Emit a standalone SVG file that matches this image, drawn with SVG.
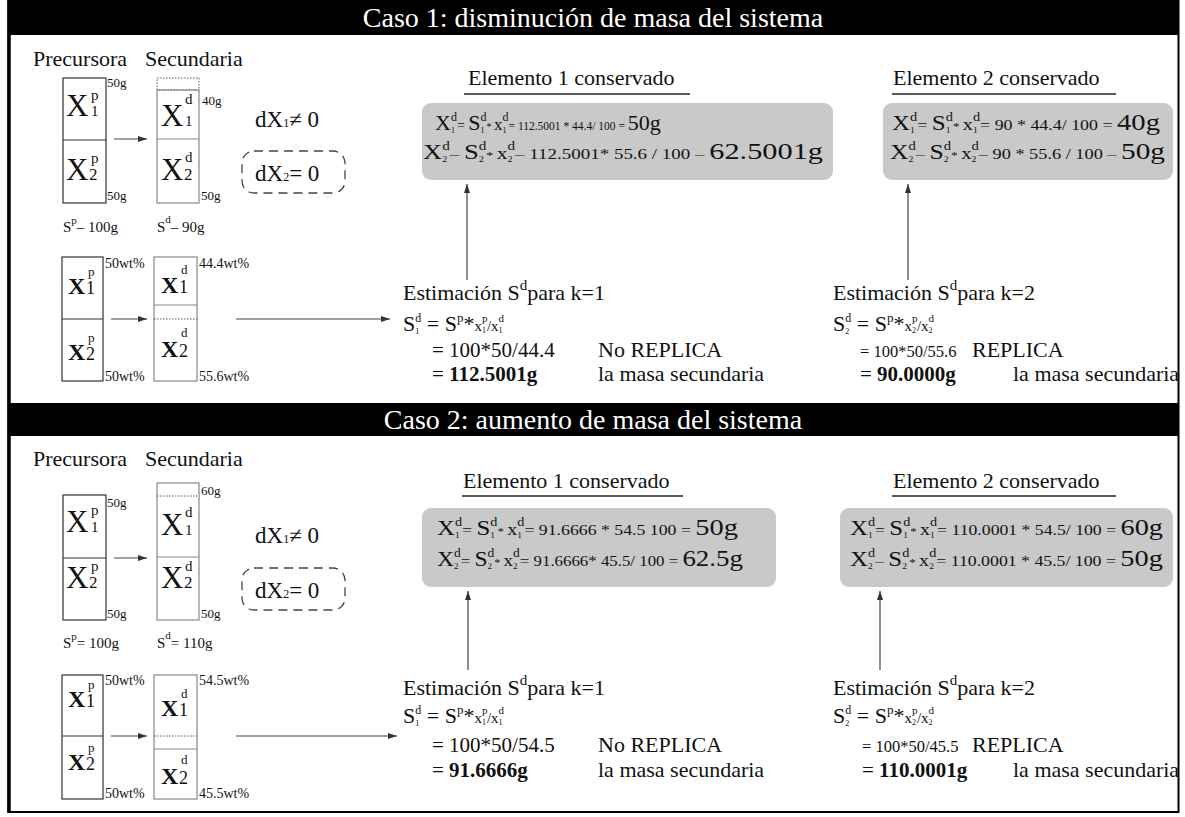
<svg xmlns="http://www.w3.org/2000/svg" width="1185" height="817" viewBox="0 0 1185 817">
<defs>
<style>
text{font-family:"Liberation Serif","Times New Roman",serif;fill:#111}
.hdr{font-size:28px;fill:#fff}
.lbl{font-size:22px}
.sm{font-size:13px}
.wt{font-size:14px}
.bx{fill:none;stroke:#333;stroke-width:1.2}
.bx2{fill:none;stroke:#888;stroke-width:1.2}
.dt{fill:none;stroke:#555;stroke-width:1;stroke-dasharray:1.5 1.5}
.dash{fill:none;stroke:#444;stroke-width:1.3;stroke-dasharray:9 6}
.gray{fill:#c9c9c9}
.ul{stroke:#222;stroke-width:1.3}
.conn line{stroke:#444;stroke-width:1.2;marker-end:url(#ah)}
.bold{font-weight:bold}
</style>
<marker id="ah" markerWidth="9" markerHeight="6" refX="9" refY="3" orient="auto" markerUnits="userSpaceOnUse">
<path d="M0,0 L9,3 L0,6 z" fill="#333"/>
</marker>
</defs>
<rect x="0" y="0" width="1185" height="817" fill="#fff"/>
<g id="frame">
<rect x="8.5" y="1" width="1170" height="811" fill="none" stroke="#000" stroke-width="2"/>
<line x1="9" y1="0" x2="9" y2="813" stroke="#000" stroke-width="3.5"/>
</g>
<g id="header1">
<rect x="8" y="0" width="1171" height="35" fill="#000"/>
<text x="593" y="27" text-anchor="middle" class="hdr">Caso 1: disminución de masa del sistema</text>
</g>
<g id="header2">
<rect x="8" y="403" width="1171" height="33" fill="#000"/>
<text x="593" y="429" text-anchor="middle" class="hdr">Caso 2: aumento de masa del sistema</text>
</g>

<!-- CASE 1 -->
<g id="c1-labels">
<text x="33" y="66" class="lbl">Precursora</text>
<text x="145" y="66" class="lbl">Secundaria</text>
</g>
<g id="c1-prec-mass">
<rect x="63" y="78" width="43" height="125" class="bx"/>
<line x1="63" y1="140" x2="106" y2="140" class="bx"/>
<text x="66" y="116" font-size="31">X</text><text x="91" y="100" font-size="15">p</text><text x="91" y="116" font-size="15">1</text>
<text x="66" y="180" font-size="31">X</text><text x="91" y="163" font-size="15">p</text><text x="89" y="180" font-size="17">2</text>
<text x="107" y="87" class="sm">50g</text>
<text x="107" y="200" class="sm">50g</text>
</g>
<g id="c1-sec-mass">
<rect x="157" y="78" width="42" height="12" class="dt"/>
<rect x="157" y="90" width="42" height="113" class="bx2"/>
<line x1="157" y1="139" x2="199" y2="139" class="bx2"/>
<text x="161" y="126" font-size="31">X</text><text x="185" y="104" font-size="15">d</text><text x="185" y="126" font-size="15">1</text>
<text x="161" y="180" font-size="31">X</text><text x="185" y="162" font-size="15">d</text><text x="184" y="180" font-size="17">2</text>
<text x="202" y="105" class="sm">40g</text>
<text x="201" y="200" class="sm">50g</text>
</g>
<g id="c1-cond">
<text x="255" y="127" font-size="23">dX<tspan font-size="12">1</tspan>≠ 0</text>
<rect x="242" y="151" width="103" height="42" rx="12" class="dash"/>
<text x="255" y="181" font-size="23">dX<tspan font-size="12">2</tspan>= 0</text>
</g>
<g id="c1-sum">
<text x="63" y="232" font-size="15">S<tspan font-size="11" dy="-8">p</tspan><tspan dy="8">– 100g</tspan></text>
<text x="157" y="232" font-size="15">S<tspan font-size="11" dy="-9">d</tspan><tspan dy="9">– 90g</tspan></text>
</g>
<g id="c1-prec-wt">
<rect x="62" y="257" width="41" height="124" class="bx"/>
<line x1="62" y1="319" x2="103" y2="319" class="bx"/>
<text x="68" y="294" font-size="24" class="bold">X</text><text x="86" y="294" font-size="18">1</text><text x="88" y="276" font-size="13">p</text>
<text x="68" y="360" font-size="24" class="bold">X</text><text x="86" y="360" font-size="18">2</text><text x="88" y="342" font-size="13">p</text>
<text x="105" y="268" class="wt">50wt%</text>
<text x="105" y="381" class="wt">50wt%</text>
</g>
<g id="c1-sec-wt">
<rect x="154" y="257" width="43" height="124" class="bx2"/>
<line x1="154" y1="305" x2="197" y2="305" class="bx2"/>
<line x1="154" y1="319" x2="197" y2="319" class="dt"/>
<text x="161" y="293" font-size="24" class="bold">X</text><text x="179" y="293" font-size="18">1</text><text x="181" y="274" font-size="13">d</text>
<text x="161" y="357" font-size="24" class="bold">X</text><text x="179" y="357" font-size="18">2</text><text x="181" y="337" font-size="13">d</text>
<text x="199" y="268" class="wt">44.4wt%</text>
<text x="199" y="381" class="wt">55.6wt%</text>
</g>
<g id="c1-elem1">
<text x="468" y="85" class="lbl">Elemento 1 conservado</text>
<line x1="464" y1="94" x2="690" y2="94" class="ul"/>
<rect x="422" y="103" width="411" height="77" rx="9" class="gray"/>
<text x="435" y="130"><tspan font-size="22">X</tspan><tspan font-size="12" dy="-9">d</tspan><tspan font-size="8" dx="-6" dy="12">1</tspan><tspan font-size="14" dx="2" dy="-3">= </tspan><tspan font-size="22">S</tspan><tspan font-size="12" dy="-9">d</tspan><tspan font-size="8" dx="-6" dy="12">1</tspan><tspan font-size="10" dx="2" dy="-3">* </tspan><tspan font-size="17">x</tspan><tspan font-size="12" dy="-9">d</tspan><tspan font-size="8" dx="-6" dy="12">1</tspan><tspan font-size="11.5" dx="2" dy="-3">= 112.5001 * 44.4/ 100 = </tspan><tspan font-size="22">50g</tspan></text>
<text x="423" y="159" textLength="400" lengthAdjust="spacingAndGlyphs"><tspan font-size="21">X</tspan><tspan font-size="12" dy="-9">d</tspan><tspan font-size="8" dx="-6" dy="12">2</tspan><tspan font-size="15" dx="2" dy="-3">– </tspan><tspan font-size="21">S</tspan><tspan font-size="12" dy="-9">d</tspan><tspan font-size="8" dx="-6" dy="12">2</tspan><tspan font-size="11" dx="2" dy="-3">* </tspan><tspan font-size="17">x</tspan><tspan font-size="12" dy="-9">d</tspan><tspan font-size="8" dx="-6" dy="12">2</tspan><tspan font-size="15" dx="2" dy="-3">– 112.5001* 55.6 / 100 – </tspan><tspan font-size="24">62.5001g</tspan></text>
</g>
<g id="c1-elem2">
<text x="893" y="85" class="lbl">Elemento 2 conservado</text>
<line x1="892" y1="94" x2="1116" y2="94" class="ul"/>
<rect x="883" y="103" width="290" height="77" rx="9" class="gray"/>
<text x="892" y="130" textLength="268" lengthAdjust="spacingAndGlyphs"><tspan font-size="21">X</tspan><tspan font-size="12" dy="-9">d</tspan><tspan font-size="8" dx="-6" dy="12">1</tspan><tspan font-size="15" dx="2" dy="-3">= </tspan><tspan font-size="21">S</tspan><tspan font-size="12" dy="-9">d</tspan><tspan font-size="8" dx="-6" dy="12">1</tspan><tspan font-size="11" dx="2" dy="-3">* </tspan><tspan font-size="17">x</tspan><tspan font-size="12" dy="-9">d</tspan><tspan font-size="8" dx="-6" dy="12">1</tspan><tspan font-size="15" dx="2" dy="-3">= 90 * 44.4/ 100 = </tspan><tspan font-size="24">40g</tspan></text>
<text x="890" y="159" textLength="275" lengthAdjust="spacingAndGlyphs"><tspan font-size="21">X</tspan><tspan font-size="12" dy="-9">d</tspan><tspan font-size="8" dx="-6" dy="12">2</tspan><tspan font-size="15" dx="2" dy="-3">– </tspan><tspan font-size="21">S</tspan><tspan font-size="12" dy="-9">d</tspan><tspan font-size="8" dx="-6" dy="12">2</tspan><tspan font-size="11" dx="2" dy="-3">* </tspan><tspan font-size="17">x</tspan><tspan font-size="12" dy="-9">d</tspan><tspan font-size="8" dx="-6" dy="12">2</tspan><tspan font-size="15" dx="2" dy="-3">– 90 * 55.6 / 100 – </tspan><tspan font-size="24">50g</tspan></text>
</g>
<g id="c1-est1">
<text x="403" y="300" class="lbl">Estimación S<tspan font-size="15" dy="-10">d</tspan><tspan dy="10">para k=1</tspan></text>
<text x="403" y="331" font-size="22">S<tspan font-size="12" dy="-9">d</tspan><tspan font-size="8" dx="-6" dy="12">1</tspan><tspan dx="2" dy="-3"> = S</tspan><tspan font-size="13" dy="-9">p</tspan><tspan dy="9">*</tspan><tspan font-size="15">x</tspan><tspan font-size="11" dy="-9">p</tspan><tspan font-size="8" dx="-5.5" dy="11">1</tspan><tspan font-size="15" dx="1" dy="-2">/x</tspan><tspan font-size="11" dy="-9">d</tspan><tspan font-size="8" dx="-5.5" dy="11">1</tspan></text>
<text x="432" y="357" font-size="21">= 100*50/44.4</text>
<text x="598" y="357" class="lbl">No REPLICA</text>
<text x="432" y="381" font-size="21">= <tspan class="bold">112.5001g</tspan></text>
<text x="598" y="381" class="lbl">la masa secundaria</text>
</g>
<g id="c1-est2">
<text x="833" y="300" class="lbl">Estimación S<tspan font-size="15" dy="-10">d</tspan><tspan dy="10">para k=2</tspan></text>
<text x="833" y="331" font-size="22">S<tspan font-size="12" dy="-9">d</tspan><tspan font-size="8" dx="-6" dy="12">2</tspan><tspan dx="2" dy="-3"> = S</tspan><tspan font-size="13" dy="-9">p</tspan><tspan dy="9">*</tspan><tspan font-size="15">x</tspan><tspan font-size="11" dy="-9">p</tspan><tspan font-size="8" dx="-5.5" dy="11">2</tspan><tspan font-size="15" dx="1" dy="-2">/x</tspan><tspan font-size="11" dy="-9">d</tspan><tspan font-size="8" dx="-5.5" dy="11">2</tspan></text>
<text x="860" y="357" font-size="16.5">= 100*50/55.6</text>
<text x="972" y="357" class="lbl">REPLICA</text>
<text x="860" y="381" font-size="21">= <tspan class="bold">90.0000g</tspan></text>
<text x="1013" y="381" class="lbl">la masa secundaria</text>
</g>

<!-- CASE 2 -->
<g id="c2-labels">
<text x="33" y="466" class="lbl">Precursora</text>
<text x="145" y="466" class="lbl">Secundaria</text>
</g>
<g id="c2-prec-mass">
<rect x="63" y="495" width="43" height="125" class="bx"/>
<line x1="63" y1="558" x2="106" y2="558" class="bx"/>
<text x="66" y="532" font-size="31">X</text><text x="91" y="515" font-size="15">p</text><text x="91" y="532" font-size="15">1</text>
<text x="66" y="588" font-size="31">X</text><text x="91" y="571" font-size="15">p</text><text x="89" y="588" font-size="17">2</text>
<text x="107" y="507" class="sm">50g</text>
<text x="107" y="618" class="sm">50g</text>
</g>
<g id="c2-sec-mass">
<rect x="157" y="483" width="42" height="137" class="bx2"/>
<line x1="157" y1="496" x2="199" y2="496" class="dt"/>
<line x1="157" y1="557" x2="199" y2="557" class="bx2"/>
<text x="161" y="535" font-size="31">X</text><text x="185" y="517" font-size="15">d</text><text x="185" y="535" font-size="15">1</text>
<text x="161" y="588" font-size="31">X</text><text x="185" y="571" font-size="15">d</text><text x="184" y="588" font-size="17">2</text>
<text x="201" y="495" class="sm">60g</text>
<text x="201" y="618" class="sm">50g</text>
</g>
<g id="c2-cond">
<text x="255" y="543" font-size="23">dX<tspan font-size="12">1</tspan>≠ 0</text>
<rect x="242" y="568" width="103" height="42" rx="12" class="dash"/>
<text x="255" y="598" font-size="23">dX<tspan font-size="12">2</tspan>= 0</text>
</g>
<g id="c2-sum">
<text x="63" y="648" font-size="15">S<tspan font-size="11" dy="-8">p</tspan><tspan dy="8">= 100g</tspan></text>
<text x="157" y="648" font-size="15">S<tspan font-size="11" dy="-9">d</tspan><tspan dy="9">= 110g</tspan></text>
</g>
<g id="c2-prec-wt">
<rect x="62" y="675" width="41" height="124" class="bx"/>
<line x1="62" y1="736" x2="103" y2="736" class="bx"/>
<text x="68" y="707" font-size="24" class="bold">X</text><text x="86" y="707" font-size="18">1</text><text x="88" y="689" font-size="13">p</text>
<text x="68" y="770" font-size="24" class="bold">X</text><text x="86" y="770" font-size="18">2</text><text x="88" y="752" font-size="13">p</text>
<text x="105" y="685" class="wt">50wt%</text>
<text x="105" y="798" class="wt">50wt%</text>
</g>
<g id="c2-sec-wt">
<rect x="154" y="675" width="43" height="124" class="bx2"/>
<line x1="154" y1="736" x2="197" y2="736" class="dt"/>
<line x1="154" y1="749" x2="197" y2="749" class="bx2"/>
<text x="161" y="716" font-size="24" class="bold">X</text><text x="179" y="716" font-size="18">1</text><text x="181" y="698" font-size="13">d</text>
<text x="161" y="784" font-size="24" class="bold">X</text><text x="179" y="784" font-size="18">2</text><text x="181" y="764" font-size="13">d</text>
<text x="199" y="685" class="wt">54.5wt%</text>
<text x="199" y="798" class="wt">45.5wt%</text>
</g>
<g id="c2-elem1">
<text x="463" y="488" class="lbl">Elemento 1 conservado</text>
<line x1="462" y1="496" x2="683" y2="496" class="ul"/>
<rect x="422" y="508" width="354" height="79" rx="9" class="gray"/>
<text x="437" y="535" textLength="301" lengthAdjust="spacingAndGlyphs"><tspan font-size="21">X</tspan><tspan font-size="12" dy="-9">d</tspan><tspan font-size="8" dx="-6" dy="12">1</tspan><tspan font-size="15" dx="2" dy="-3">= </tspan><tspan font-size="21">S</tspan><tspan font-size="12" dy="-9">d</tspan><tspan font-size="8" dx="-6" dy="12">1</tspan><tspan font-size="11" dx="2" dy="-3">* </tspan><tspan font-size="17">x</tspan><tspan font-size="12" dy="-9">d</tspan><tspan font-size="8" dx="-6" dy="12">1</tspan><tspan font-size="15" dx="2" dy="-3">= 91.6666 * 54.5 100 = </tspan><tspan font-size="24">50g</tspan></text>
<text x="437" y="566" textLength="306" lengthAdjust="spacingAndGlyphs"><tspan font-size="21">X</tspan><tspan font-size="12" dy="-9">d</tspan><tspan font-size="8" dx="-6" dy="12">2</tspan><tspan font-size="15" dx="2" dy="-3">= </tspan><tspan font-size="21">S</tspan><tspan font-size="12" dy="-9">d</tspan><tspan font-size="8" dx="-6" dy="12">2</tspan><tspan font-size="11" dx="2" dy="-3">* </tspan><tspan font-size="17">x</tspan><tspan font-size="12" dy="-9">d</tspan><tspan font-size="8" dx="-6" dy="12">2</tspan><tspan font-size="15" dx="2" dy="-3">= 91.6666* 45.5/ 100 = </tspan><tspan font-size="24">62.5g</tspan></text>
</g>
<g id="c2-elem2">
<text x="893" y="488" class="lbl">Elemento 2 conservado</text>
<line x1="892" y1="496" x2="1116" y2="496" class="ul"/>
<rect x="840" y="508" width="333" height="79" rx="9" class="gray"/>
<text x="850" y="535" textLength="313" lengthAdjust="spacingAndGlyphs"><tspan font-size="21">X</tspan><tspan font-size="12" dy="-9">d</tspan><tspan font-size="8" dx="-6" dy="12">1</tspan><tspan font-size="15" dx="2" dy="-3">= </tspan><tspan font-size="21">S</tspan><tspan font-size="12" dy="-9">d</tspan><tspan font-size="8" dx="-6" dy="12">1</tspan><tspan font-size="11" dx="2" dy="-3">* </tspan><tspan font-size="17">x</tspan><tspan font-size="12" dy="-9">d</tspan><tspan font-size="8" dx="-6" dy="12">1</tspan><tspan font-size="15" dx="2" dy="-3">= 110.0001 * 54.5/ 100 = </tspan><tspan font-size="24">60g</tspan></text>
<text x="850" y="566" textLength="313" lengthAdjust="spacingAndGlyphs"><tspan font-size="21">X</tspan><tspan font-size="12" dy="-9">d</tspan><tspan font-size="8" dx="-6" dy="12">2</tspan><tspan font-size="15" dx="2" dy="-3">– </tspan><tspan font-size="21">S</tspan><tspan font-size="12" dy="-9">d</tspan><tspan font-size="8" dx="-6" dy="12">2</tspan><tspan font-size="11" dx="2" dy="-3">* </tspan><tspan font-size="17">x</tspan><tspan font-size="12" dy="-9">d</tspan><tspan font-size="8" dx="-6" dy="12">2</tspan><tspan font-size="15" dx="2" dy="-3">= 110.0001 * 45.5/ 100 = </tspan><tspan font-size="24">50g</tspan></text>
</g>
<g id="c2-est1">
<text x="403" y="695" class="lbl">Estimación S<tspan font-size="15" dy="-10">d</tspan><tspan dy="10">para k=1</tspan></text>
<text x="403" y="723" font-size="22">S<tspan font-size="12" dy="-9">d</tspan><tspan font-size="8" dx="-6" dy="12">1</tspan><tspan dx="2" dy="-3"> = S</tspan><tspan font-size="13" dy="-9">p</tspan><tspan dy="9">*</tspan><tspan font-size="15">x</tspan><tspan font-size="11" dy="-9">p</tspan><tspan font-size="8" dx="-5.5" dy="11">1</tspan><tspan font-size="15" dx="1" dy="-2">/x</tspan><tspan font-size="11" dy="-9">d</tspan><tspan font-size="8" dx="-5.5" dy="11">1</tspan></text>
<text x="432" y="752" font-size="21">= 100*50/54.5</text>
<text x="598" y="752" class="lbl">No REPLICA</text>
<text x="432" y="777" font-size="21">= <tspan class="bold">91.6666g</tspan></text>
<text x="598" y="777" class="lbl">la masa secundaria</text>
</g>
<g id="c2-est2">
<text x="833" y="695" class="lbl">Estimación S<tspan font-size="15" dy="-10">d</tspan><tspan dy="10">para k=2</tspan></text>
<text x="833" y="723" font-size="22">S<tspan font-size="12" dy="-9">d</tspan><tspan font-size="8" dx="-6" dy="12">2</tspan><tspan dx="2" dy="-3"> = S</tspan><tspan font-size="13" dy="-9">p</tspan><tspan dy="9">*</tspan><tspan font-size="15">x</tspan><tspan font-size="11" dy="-9">p</tspan><tspan font-size="8" dx="-5.5" dy="11">2</tspan><tspan font-size="15" dx="1" dy="-2">/x</tspan><tspan font-size="11" dy="-9">d</tspan><tspan font-size="8" dx="-5.5" dy="11">2</tspan></text>
<text x="862" y="752" font-size="16.5">= 100*50/45.5</text>
<text x="972" y="752" class="lbl">REPLICA</text>
<text x="862" y="777" font-size="21">= <tspan class="bold">110.0001g</tspan></text>
<text x="1013" y="777" class="lbl">la masa secundaria</text>
</g>

<g id="connectors" class="conn">
<line x1="114" y1="139" x2="147" y2="139"/>
<line x1="111" y1="319" x2="147" y2="319"/>
<line x1="236" y1="319" x2="390" y2="319"/>
<line x1="467" y1="280" x2="467" y2="184"/>
<line x1="908" y1="280" x2="908" y2="184"/>
<line x1="114" y1="558" x2="147" y2="558"/>
<line x1="111" y1="736" x2="147" y2="736"/>
<line x1="236" y1="736" x2="397" y2="736"/>
<line x1="468" y1="670" x2="468" y2="591"/>
<line x1="880" y1="670" x2="880" y2="591"/>
</g>
</svg>
